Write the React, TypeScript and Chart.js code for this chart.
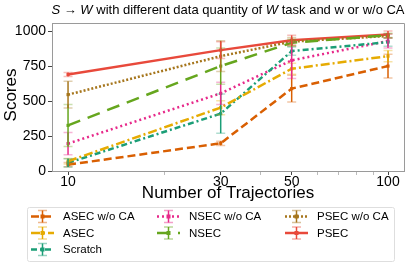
import React, { useEffect, useRef } from 'react';
import { Chart, registerables } from 'chart.js';

Chart.register(...registerables);

const FONT = '"Liberation Sans", Arial, Helvetica, sans-serif';

const trajectories = [10, 30, 50, 100];
const xTickValues = [10, 20, 30, 40, 50, 60, 70, 80, 90, 100];
const xMajorTicks = [10, 30, 50, 100];
const yTickValues = [0, 250, 500, 750, 1000];

const seriesNames = ['ASEC w/o CA', 'ASEC', 'Scratch', 'NSEC w/o CA', 'NSEC', 'PSEC w/o CA', 'PSEC'];
const seriesColors = ['#d95f02', '#e6ab02', '#1b9e77', '#e7298a', '#66a61e', '#a6761d', '#e8493b'];
const seriesDashes = [[8, 4], [9, 3, 2, 3], [6, 3, 2, 3], [2, 3], [13, 8], [2, 2], []];
const legendColumns = [[0, 1, 2], [3, 4], [5, 6]];

const asecWoCA = [45, 198, 589, 750];
const asecWoCAErr = [15, 15, 95, 85];
const asec = [70, 453, 731, 821];
const asecErr = [20, 50, 40, 40];
const scratch = [58, 410, 857, 921];
const scratchErr = [30, 140, 30, 30];
const nsecWoCA = [196, 555, 791, 929];
const nsecWoCAErr = [80, 80, 130, 50];
const nsec = [326, 750, 917, 970];
const nsecErr = [150, 130, 25, 15];
const psecWoCA = [546, 821, 925, 965];
const psecWoCAErr = [95, 110, 30, 15];
const psec = [690, 864, 935, 976];
const psecErr = [15, 60, 35, 25];

const seriesValues = [asecWoCA, asec, scratch, nsecWoCA, nsec, psecWoCA, psec];
const seriesErrors = [asecWoCAErr, asecErr, scratchErr, nsecWoCAErr, nsecErr, psecWoCAErr, psecErr];

const titleParts: [string, boolean][] = [
  ['S', true], [' \u2192 ', false], ['W', true], [' with different data quantity of ', false], ['W', true], [' task and w or w/o CA', false],
];
const xTitle = 'Number of Trajectories';
const yTitle = 'Scores';

function hexA(hex: string, a: number) {
  const r = parseInt(hex.slice(1, 3), 16), g = parseInt(hex.slice(3, 5), 16), b = parseInt(hex.slice(5, 7), 16);
  return `rgba(${r},${g},${b},${a})`;
}

const decorPlugin = {
  id: 'decor',
  afterDatasetsDraw(chart: any) {
    const ctx = chart.ctx;
    const xs = chart.scales.x, ys = chart.scales.y;
    ctx.save();
    seriesValues.forEach((vals, i) => {
      const col = seriesColors[i];
      vals.forEach((v, j) => {
        const px = xs.getPixelForValue(trajectories[j]);
        const top = ys.getPixelForValue(v + seriesErrors[i][j]);
        const bot = ys.getPixelForValue(v - seriesErrors[i][j]);
        ctx.strokeStyle = col;
        ctx.lineWidth = 1.5;
        ctx.setLineDash([]);
        ctx.beginPath();
        ctx.moveTo(px, top); ctx.lineTo(px, bot); ctx.stroke();
        ctx.strokeStyle = hexA(col, 0.35);
        ctx.beginPath();
        ctx.moveTo(px - 4.5, top); ctx.lineTo(px + 4.5, top);
        ctx.moveTo(px - 4.5, bot); ctx.lineTo(px + 4.5, bot);
        ctx.stroke();
      });
    });
    ctx.restore();
  },
  afterDraw(chart: any) {
    const ctx = chart.ctx;
    const area = chart.chartArea;
    ctx.save();
    ctx.strokeStyle = '#9a9a9a';
    ctx.lineWidth = 1;
    ctx.beginPath();
    ctx.moveTo(area.left, area.top + 0.5); ctx.lineTo(area.right + 0.5, area.top + 0.5);
    ctx.lineTo(area.right + 0.5, area.bottom);
    ctx.stroke();

    // title
    ctx.fillStyle = '#000';
    ctx.textBaseline = 'middle';
    const tSize = 13;
    let total = 0;
    titleParts.forEach(([t, it]) => {
      ctx.font = `${it ? 'italic ' : ''}${tSize}px ${FONT}`;
      total += ctx.measureText(t).width;
    });
    let tx = (area.left + area.right) / 2 - total / 2;
    ctx.textAlign = 'left';
    titleParts.forEach(([t, it]) => {
      ctx.font = `${it ? 'italic ' : ''}${tSize}px ${FONT}`;
      ctx.fillText(t, tx, 10);
      tx += ctx.measureText(t).width;
    });

    // axis titles
    ctx.font = `17px ${FONT}`;
    ctx.textAlign = 'center';
    ctx.fillText(xTitle, (area.left + area.right) / 2, 193);
    ctx.save();
    ctx.translate(11, (area.top + area.bottom) / 2 - 2);
    ctx.rotate(-Math.PI / 2);
    ctx.fillText(yTitle, 0, 0);
    ctx.restore();

    // legend
    const boxL = 27, boxT = 207, boxR = 394, boxB = 261;
    ctx.fillStyle = 'rgba(255,255,255,0.8)';
    ctx.strokeStyle = '#dedede';
    ctx.lineWidth = 1;
    ctx.beginPath();
    if (ctx.roundRect) ctx.roundRect(boxL + 0.5, boxT + 0.5, boxR - boxL, boxB - boxT, 2);
    else ctx.rect(boxL + 0.5, boxT + 0.5, boxR - boxL, boxB - boxT);
    ctx.fill();
    ctx.stroke();
    const colX = [31, 157, 285];
    const rowY = [216.5, 233, 249.5];
    ctx.font = `11.5px ${FONT}`;
    ctx.textAlign = 'left';
    ctx.textBaseline = 'middle';
    legendColumns.forEach((items, c) => {
      items.forEach((i, r) => {
        const x0 = colX[c], y = rowY[r], x1 = x0 + 23, xm = (x0 + x1) / 2;
        const col = seriesColors[i];
        ctx.strokeStyle = col;
        ctx.lineWidth = 2.5;
        ctx.setLineDash(seriesDashes[i]);
        ctx.beginPath(); ctx.moveTo(x0, y); ctx.lineTo(x1, y); ctx.stroke();
        ctx.setLineDash([]);
        ctx.lineWidth = 1.5;
        ctx.beginPath(); ctx.moveTo(xm, y - 6); ctx.lineTo(xm, y + 6); ctx.stroke();
        ctx.strokeStyle = hexA(col, 0.45);
        ctx.beginPath();
        ctx.moveTo(xm - 4.5, y - 6); ctx.lineTo(xm + 4.5, y - 6);
        ctx.moveTo(xm - 4.5, y + 6); ctx.lineTo(xm + 4.5, y + 6);
        ctx.stroke();
        ctx.fillStyle = col;
        ctx.fillRect(xm - 2, y - 2, 4, 4);
        ctx.fillStyle = '#000';
        ctx.fillText(seriesNames[i], x0 + 32, y + 0.5);
      });
    });
    ctx.restore();
  },
};

export default function App() {
  const ref = useRef<HTMLCanvasElement>(null);
  useEffect(() => {
    if (!ref.current) return;
    const chart = new Chart(ref.current, {
      type: 'line',
      data: {
        datasets: seriesNames.map((name, i) => ({
          label: name,
          data: trajectories.map((t, j) => ({ x: t, y: seriesValues[i][j] })),
          borderColor: seriesColors[i],
          backgroundColor: seriesColors[i],
          borderWidth: 2.5,
          borderDash: seriesDashes[i],
          pointStyle: 'rect',
          pointRadius: 2.2,
          pointBorderWidth: 0,
          tension: 0,
          fill: false,
        })),
      },
      options: {
        responsive: false,
        animation: false,
        layout: { padding: { left: 0, right: 11, top: 23, bottom: 0 } },
        plugins: { legend: { display: false }, title: { display: false }, tooltip: { enabled: false } },
        scales: {
          x: {
            type: 'logarithmic',
            min: 8.91,
            max: 112.2,
            afterBuildTicks: (s: any) => { s.ticks = xTickValues.map((v) => ({ value: v })); },
            afterFit: (s: any) => { s.height = 106; },
            ticks: {
              autoSkip: false,
              maxRotation: 0,
              padding: -1,
              color: '#000',
              font: { size: 14, family: FONT },
              callback: (v: any) => (xMajorTicks.includes(Number(v)) ? String(v) : ''),
            },
            grid: {
              drawOnChartArea: false,
              drawTicks: true,
              tickLength: 4,
              color: (c: any) => (c.tick && xMajorTicks.includes(c.tick.value) ? '#444' : '#bbb'),
            },
            border: { color: '#9a9a9a', width: 1 },
          },
          y: {
            type: 'linear',
            min: 0,
            max: 1058,
            afterBuildTicks: (s: any) => { s.ticks = yTickValues.map((v) => ({ value: v })); },
            afterFit: (s: any) => { s.width = 52; },
            ticks: {
              padding: 2,
              color: '#000',
              font: { size: 14, family: FONT },
              callback: (v: any) => String(v),
            },
            grid: { drawOnChartArea: false, drawTicks: true, tickLength: 4, color: '#444' },
            border: { color: '#9a9a9a', width: 1 },
          },
        },
      },
      plugins: [decorPlugin],
    });
    return () => chart.destroy();
  }, []);
  return (
    <div style={{ position: 'fixed', left: 0, top: 0, width: 415, height: 277, background: '#fff' }}>
      <canvas ref={ref} width={415} height={277} style={{ display: 'block', width: 415, height: 277 }} />
    </div>
  );
}
